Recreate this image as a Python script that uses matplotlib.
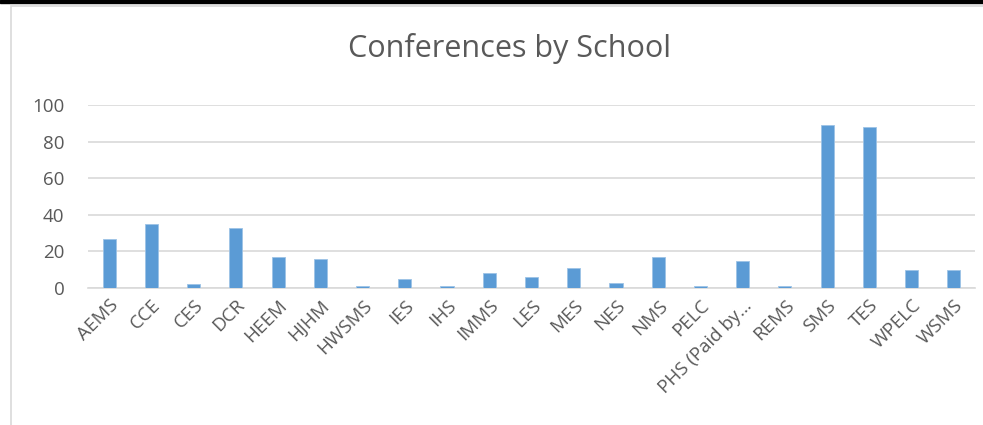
import matplotlib
matplotlib.use("Agg")
import matplotlib.pyplot as plt
from matplotlib.patches import Rectangle

schools = ["AEMS", "CCE", "CES", "DCR", "HEEM", "HJHM", "HWSMS", "IES", "IHS",
           "IMMS", "LES", "MES", "NES", "NMS", "PELC", "PHS (Paid by\u2026",
           "REMS", "SMS", "TES", "WPELC", "WSMS"]
conferences = [27, 35, 2, 33, 17, 16, 1, 5, 1, 8, 6, 11, 3, 17, 1, 15, 1, 89, 88, 10, 10]
y_ticks = [0, 20, 40, 60, 80, 100]

plt.rcParams['font.family'] = ['Open Sans', 'DejaVu Sans']
text_color = '#595959'
W, H = 983, 425

fig = plt.figure(figsize=(W / 100, H / 100), dpi=100)

# frame of the chart area (runs off the right and bottom) and the dark strip on top
fig.patches.append(Rectangle((11 / W, -0.1), 1.2, 1.1 - 6 / H, transform=fig.transFigure,
                             fill=False, edgecolor='#D9D9D9', linewidth=1.2))
fig.patches.append(Rectangle((0, 1 - 3 / H), 1, 3 / H, transform=fig.transFigure,
                             color='black'))

ax = fig.add_axes([88 / W, 1 - 288 / H, (975 - 88) / W, (288 - 105) / H])
x = range(len(schools))
ax.bar(x, conferences, width=0.31, color='#5B9BD5', edgecolor='#9DC3E6', linewidth=0.6, zorder=3)

ax.set_xlim(-0.5, len(schools) - 0.5)
ax.set_ylim(0, 100)
ax.set_yticks(y_ticks)
ax.yaxis.grid(True, color='#D9D9D9', linewidth=1.2, zorder=0)
for side in ['top', 'right', 'left']:
    ax.spines[side].set_visible(False)
ax.spines['bottom'].set_color('#D9D9D9')
ax.spines['bottom'].set_linewidth(1.2)
ax.tick_params(axis='both', length=0, labelsize=13.5, colors=text_color)
ax.tick_params(axis='y', pad=17)
ax.tick_params(axis='x', pad=6)
ax.set_xticks(list(x))
ax.set_xticklabels(schools, rotation=45, ha='right', rotation_mode='anchor')

fig.text(0.518, 1 - 48 / H, "Conferences by School", ha='center', va='center',
         fontsize=22, color=text_color)

fig.savefig("out.png", dpi=100)
